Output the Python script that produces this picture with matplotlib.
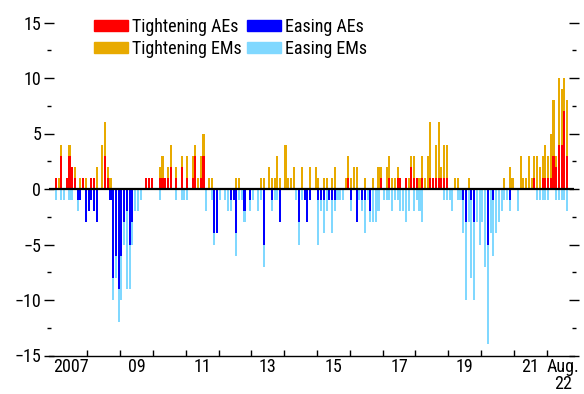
import numpy as np
import matplotlib
matplotlib.use("Agg")
from matplotlib import pyplot as plt
from matplotlib.patches import Patch
from matplotlib.ticker import FixedLocator, MultipleLocator, NullFormatter

plt.rcParams['font.family'] = ['Roboto Condensed', 'Liberation Sans', 'DejaVu Sans']

# monthly counts of central banks, Jan 2007 .. Aug 2022 (one row per year)
tightening_aes = [
    1, 0, 3, 0, 1, 3, 2, 1, 0, 0, 1, 0,
    0, 1, 1, 0, 0, 0, 3, 1, 0, 0, 0, 0,
    0, 0, 0, 0, 0, 0, 0, 0, 0, 1, 1, 1,
    0, 0, 1, 1, 1, 1, 2, 0, 1, 0, 2, 0,
    1, 0, 1, 3, 0, 1, 3, 0, 0, 0, 0, 0,
    0, 0, 0, 0, 0, 0, 0, 0, 0, 0, 0, 0,
    0, 0, 0, 0, 0, 0, 0, 0, 0, 0, 0, 0,
    0, 0, 0, 0, 0, 0, 0, 0, 0, 0, 0, 0,
    0, 0, 0, 0, 0, 0, 0, 0, 0, 0, 0, 1,
    0, 0, 0, 0, 0, 0, 0, 0, 0, 0, 0, 1,
    0, 0, 1, 0, 0, 1, 1, 0, 1, 0, 2, 1,
    1, 0, 1, 0, 0, 1, 1, 1, 1, 1, 1, 1,
    0, 0, 0, 0, 0, 0, 0, 0, 0, 0, 0, 0,
    0, 0, 0, 0, 0, 0, 0, 0, 0, 0, 0, 0,
    0, 0, 0, 0, 0, 0, 0, 1, 0, 0, 1, 1,
    1, 1, 3, 2, 4, 4, 7, 3,
]
tightening_ems = [
    0, 1, 1, 0, 0, 1, 0, 1, 0, 1, 0, 1,
    0, 0, 0, 2, 0, 4, 3, 1, 1, 0, 0, 0,
    0, 0, 0, 0, 0, 0, 0, 0, 0, 0, 0, 0,
    0, 0, 1, 2, 0, 1, 2, 0, 1, 0, 1, 0,
    2, 0, 2, 1, 1, 2, 2, 0, 1, 1, 0, 0,
    0, 0, 0, 0, 0, 0, 1, 1, 0, 0, 0, 0,
    0, 0, 0, 1, 1, 0, 2, 1, 1, 3, 1, 0,
    4, 1, 1, 2, 0, 0, 2, 0, 0, 2, 0, 2,
    1, 0, 1, 1, 0, 1, 2, 0, 0, 0, 1, 2,
    1, 2, 2, 0, 0, 1, 0, 0, 1, 0, 2, 1,
    0, 2, 2, 1, 1, 1, 0, 0, 0, 1, 1, 2,
    0, 1, 2, 1, 3, 5, 0, 3, 5, 1, 3, 3,
    0, 0, 1, 1, 0, 0, 0, 1, 0, 0, 0, 0,
    0, 0, 0, 0, 0, 0, 0, 0, 1, 0, 2, 1,
    0, 0, 3, 1, 1, 3, 1, 2, 3, 2, 2, 3,
    2, 4, 5, 1, 6, 5, 3, 5,
]
easing_aes = [
    0, 0, 0, 0, 0, 0, 0, 0, 1, 1, 0, 3,
    2, 1, 2, 3, 0, 0, 0, 0, 1, 8, 6, 9,
    6, 3, 2, 5, 3, 0, 0, 0, 0, 0, 0, 0,
    0, 0, 0, 0, 0, 0, 0, 0, 0, 0, 0, 0,
    0, 0, 0, 0, 0, 0, 0, 0, 0, 0, 4, 4,
    0, 0, 0, 0, 1, 1, 4, 0, 0, 2, 0, 1,
    0, 0, 0, 0, 5, 0, 0, 1, 0, 0, 3, 0,
    0, 0, 0, 0, 0, 3, 0, 1, 3, 1, 0, 0,
    1, 1, 1, 0, 1, 1, 1, 0, 0, 0, 0, 0,
    1, 0, 3, 0, 1, 1, 0, 2, 0, 0, 0, 0,
    0, 0, 0, 0, 0, 0, 0, 0, 0, 0, 0, 0,
    0, 0, 0, 0, 0, 0, 0, 0, 0, 0, 0, 0,
    0, 0, 0, 0, 0, 1, 3, 0, 1, 3, 0, 0,
    0, 0, 5, 0, 1, 0, 0, 0, 0, 0, 1, 0,
    0, 0, 0, 0, 0, 0, 0, 0, 0, 0, 0, 0,
    0, 0, 0, 0, 0, 0, 0, 0,
]
easing_ems = [
    1, 0, 1, 1, 0, 1, 1, 0, 1, 0, 0, 0,
    0, 0, 0, 0, 0, 0, 0, 0, 0, 2, 2, 3,
    4, 2, 7, 4, 2, 2, 2, 1, 0, 0, 0, 0,
    0, 0, 1, 0, 0, 0, 0, 0, 1, 0, 1, 1,
    1, 0, 0, 0, 0, 0, 0, 2, 0, 1, 1, 0,
    1, 0, 1, 2, 1, 0, 2, 1, 1, 1, 0, 1,
    1, 0, 2, 1, 2, 0, 0, 1, 1, 1, 0, 0,
    0, 0, 0, 0, 1, 2, 1, 0, 0, 0, 0, 0,
    4, 1, 3, 2, 0, 3, 1, 1, 1, 1, 0, 0,
    1, 0, 0, 1, 1, 3, 1, 1, 3, 3, 2, 0,
    1, 1, 1, 2, 1, 1, 2, 2, 3, 2, 0, 2,
    1, 2, 3, 0, 0, 0, 0, 0, 0, 0, 1, 1,
    1, 2, 0, 1, 1, 3, 7, 3, 7, 7, 3, 5,
    3, 7, 9, 4, 5, 4, 3, 2, 1, 1, 1, 0,
    0, 2, 0, 0, 0, 0, 0, 0, 1, 1, 1, 1,
    1, 0, 0, 1, 1, 1, 1, 2,
]
year_labels = ['2007', '09', '11', '13', '15', '17', '19', '21', 'Aug.\n22']

RED = '#ff0000'
ORANGE = '#e8aa00'
BLUE = '#0000ff'
LIGHT_BLUE = '#80d8ff'
FS = 13

t_ae = np.array(tightening_aes)
t_em = np.array(tightening_ems)
e_ae = np.array(easing_aes)
e_em = np.array(easing_ems)
x = np.arange(len(t_ae)) + 0.5

fig = plt.figure(figsize=(5.84, 3.94), dpi=100)
ax = fig.add_axes([49 / 584, 1 - 355.5 / 394, (574 - 49) / 584, 333 / 394])

w = 0.75
ax.bar(x, t_ae, width=w, color=RED, linewidth=0)
ax.bar(x, t_em, width=w, bottom=t_ae, color=ORANGE, linewidth=0)
ax.bar(x, -e_ae, width=w, color=BLUE, linewidth=0)
ax.bar(x, -e_em, width=w, bottom=-e_ae, color=LIGHT_BLUE, linewidth=0)
ax.axhline(0, color='black', linewidth=1.6, zorder=3)

ax.set_xlim(-2, 190)
ax.set_ylim(-15, 15)

for side in ['left', 'right', 'top']:
    ax.spines[side].set_visible(False)
ax.spines['bottom'].set_linewidth(1.0)

# year boundaries as ticks, labels in the middle of each year
ax.xaxis.set_major_locator(FixedLocator(np.arange(12, 181, 12)))
ax.xaxis.set_major_formatter(NullFormatter())
label_pos = list(np.arange(6, 175, 24)) + [186]
ax.xaxis.set_minor_locator(FixedLocator(label_pos))
ax.set_xticklabels(year_labels, minor=True, fontsize=FS, linespacing=0.9)
ax.tick_params(axis='x', which='major', direction='in', length=4, width=1)
ax.tick_params(axis='x', which='minor', length=0, pad=2)

ax.yaxis.set_major_locator(MultipleLocator(5))
ax.yaxis.set_minor_locator(MultipleLocator(2.5))
ax.tick_params(axis='y', which='both', left=True, right=True, direction='inout')
ax.tick_params(axis='y', which='major', length=7, width=1, labelsize=FS, pad=2)
ax.tick_params(axis='y', which='minor', length=2.5, width=1)

handles = [Patch(color=RED), Patch(color=ORANGE), Patch(color=BLUE), Patch(color=LIGHT_BLUE)]
labels = ['Tightening AEs', 'Tightening EMs', 'Easing AEs', 'Easing EMs']
fig.legend(handles, labels, ncol=2, loc='upper left', bbox_to_anchor=(94 / 584, 1 - 18 / 394),
           frameon=False, fontsize=FS, borderpad=0, borderaxespad=0,
           handlelength=1.9, handleheight=0.55, handletextpad=0.2,
           columnspacing=0.3, labelspacing=0.2)

fig.savefig('out.png', dpi=100)
